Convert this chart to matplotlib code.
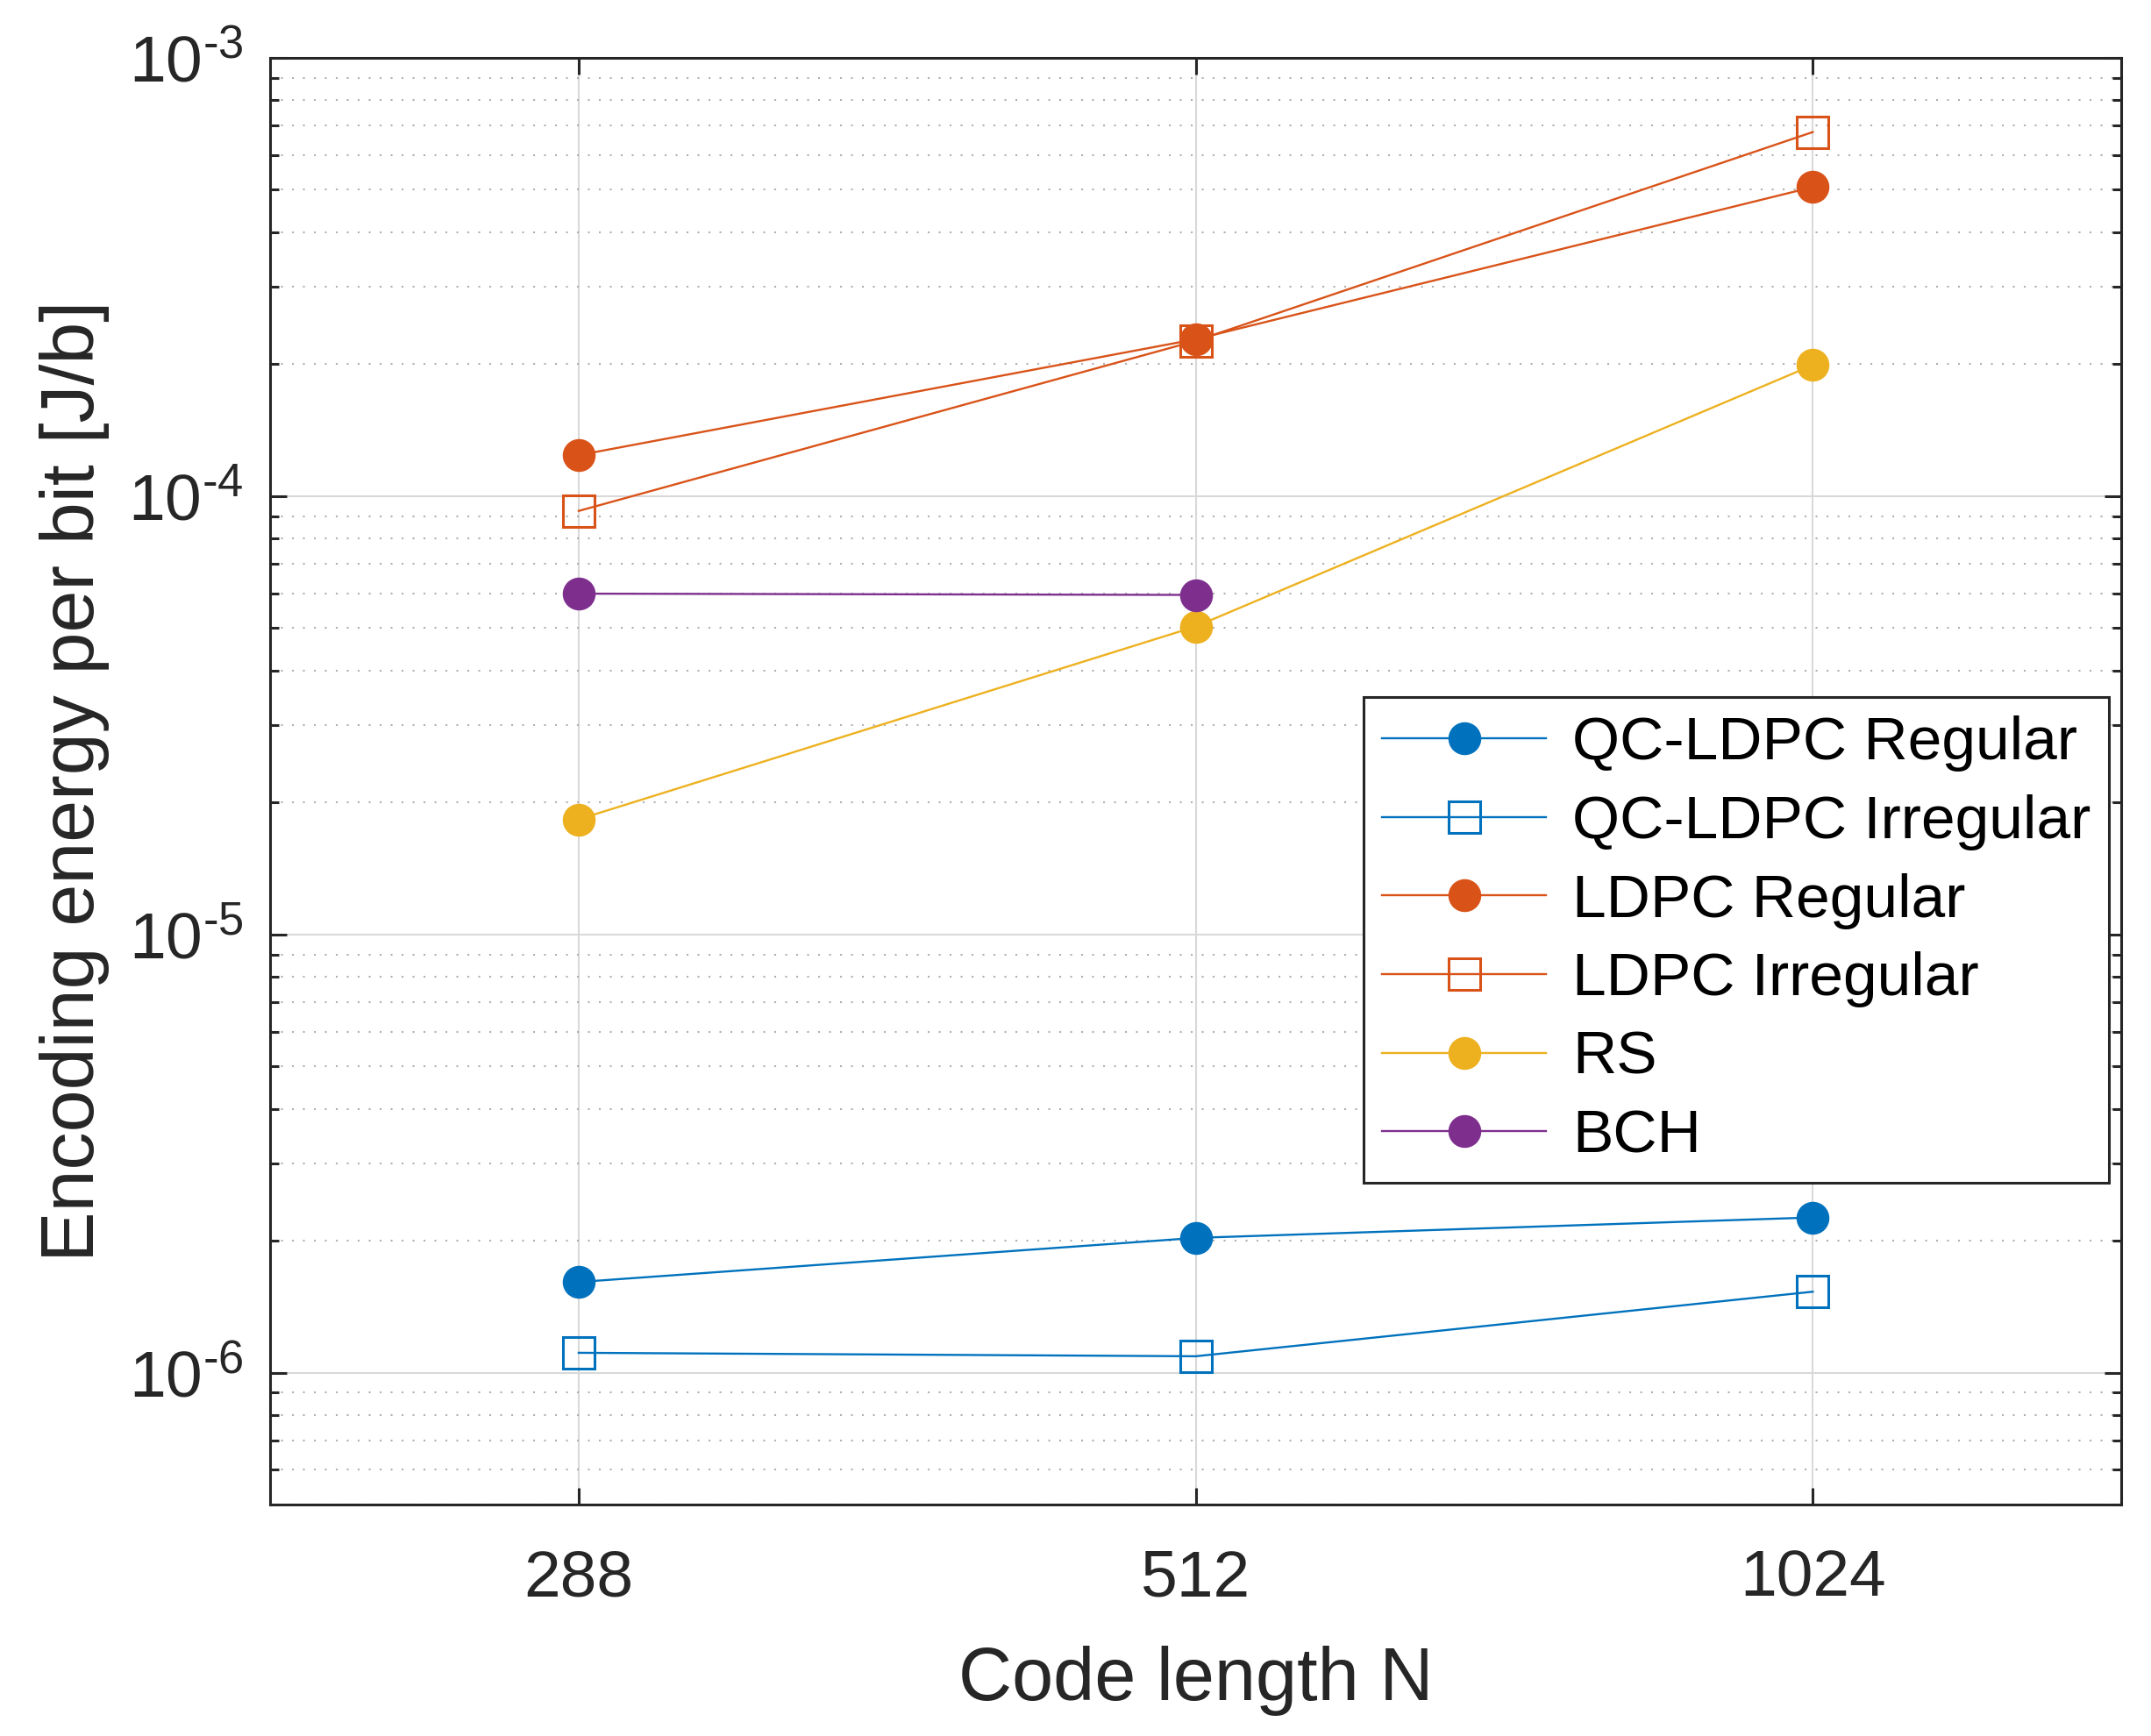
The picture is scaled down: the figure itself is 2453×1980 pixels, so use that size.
import numpy as np
import matplotlib.pyplot as plt
from matplotlib.ticker import LogLocator, FuncFormatter, NullFormatter

# data
code_lengths = ['288', '512', '1024']
qc_ldpc_regular = [1.61e-6, 2.03e-6, 2.26e-6]
qc_ldpc_irregular = [1.11e-6, 1.09e-6, 1.53e-6]
ldpc_regular = [1.24e-4, 2.28e-4, 5.07e-4]
ldpc_irregular = [9.25e-5, 2.26e-4, 6.77e-4]
rs = [1.83e-5, 5.04e-5, 1.99e-4]
bch = [5.99e-5, 5.95e-5]

plt.rcParams['font.family'] = ['Liberation Sans', 'DejaVu Sans']
plt.rcParams['mathtext.fontset'] = 'custom'
plt.rcParams['mathtext.rm'] = 'Liberation Sans'

fig = plt.figure(figsize=(24.53, 19.80), dpi=100)
ax = fig.add_axes([0.1256, 0.1333, 0.8606, 0.8334])

x = np.arange(1, len(code_lengths) + 1)
lw = 1.7
ms = 26
ax.plot(x, qc_ldpc_regular, '-o', color='#0072BD', lw=lw, ms=ms, label='QC-LDPC Regular')
ax.plot(x, qc_ldpc_irregular, '-s', color='#0072BD', lw=lw, ms=ms, mfc='none', mew=2.2, label='QC-LDPC Irregular')
ax.plot(x, ldpc_regular, '-o', color='#D95319', lw=lw, ms=ms, label='LDPC Regular')
ax.plot(x, ldpc_irregular, '-s', color='#D95319', lw=lw, ms=ms, mfc='none', mew=2.2, label='LDPC Irregular')
ax.plot(x, rs, '-o', color='#EDB120', lw=lw, ms=ms, label='RS')
ax.plot(x[:len(bch)], bch, '-o', color='#7E2F8E', lw=lw, ms=ms, label='BCH')

ax.set_yscale('log')
ax.set_ylim(5e-7, 1e-3)
ax.set_xlim(0.5, 3.5)
ax.set_xticks(x)
ax.set_xticklabels(code_lengths)
ax.yaxis.set_major_locator(LogLocator(base=10, numticks=10))
ax.yaxis.set_minor_locator(LogLocator(base=10, subs=np.arange(2, 10), numticks=10))
ax.yaxis.set_major_formatter(FuncFormatter(
    lambda v, p: r'$\mathdefault{10^{\text{-%d}}}$' % abs(int(round(np.log10(v))))))
ax.yaxis.set_minor_formatter(NullFormatter())

ax.grid(True, which='major', color='#d9d9d9', lw=1.5)
ax.grid(True, which='minor', axis='y', color='#b0b0b0', lw=1.5, ls=(0, (1, 5)))
ax.set_axisbelow(True)

ax.tick_params(which='both', direction='in', top=True, right=True, width=2.2, colors='#262626')
ax.tick_params(which='major', length=14)
ax.tick_params(which='minor', length=7)
ax.tick_params(axis='y', which='major', labelsize=54, pad=22)
ax.tick_params(axis='x', which='major', labelsize=54, pad=36)
for s in ax.spines.values():
    s.set_linewidth(2.2)
    s.set_color('#262626')

ax.set_xlabel('Code length N', fontsize=61, labelpad=30, color='#262626')
ax.set_ylabel('Encoding energy per bit [J/b]', fontsize=62, labelpad=15, color='#262626')

leg = ax.legend(loc='upper right', bbox_to_anchor=(0.9934, 0.558), borderaxespad=0,
                fontsize=50, handlelength=2.7, handletextpad=0.43, labelspacing=0.37,
                borderpad=0.3, fancybox=False, framealpha=1, edgecolor='#262626')
leg.get_frame().set_linewidth(2.2)

plt.savefig('out.png')
